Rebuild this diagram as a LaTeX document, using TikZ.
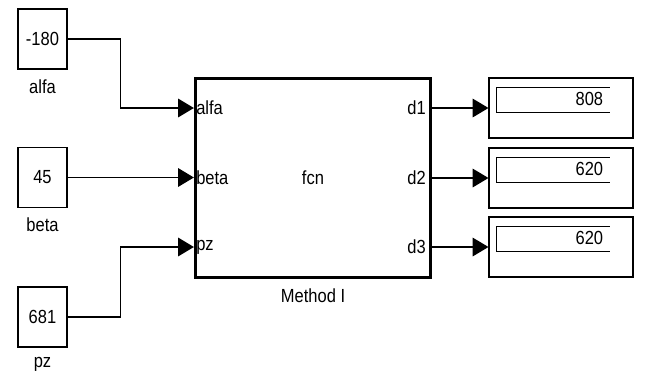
\documentclass[tikz,border=0pt]{standalone}
\usepackage{fontspec}
\setmainfont{Liberation Sans}[FakeStretch=0.87]
\usetikzlibrary{arrows.meta, positioning, calc}

\begin{document}
\begin{tikzpicture}[x=0.02cm, y=-0.02cm,
        every node/.style={font=\fontsize{10.8}{13}\selectfont},
        const/.style={draw, line width=0.6pt, minimum width=0.98cm, minimum height=1.2cm, inner sep=0pt},
        disp/.style={draw, line width=0.6pt, minimum width=2.88cm, minimum height=1.2cm, inner sep=0pt},
        wire/.style={line width=0.95pt, -{Triangle[length=9pt,width=10.5pt]}},
        port/.style={inner sep=0pt}]
        \useasboundingbox (0,0) rectangle (648,372);

        % Блок функции
        \node[draw, line width=1.8pt, minimum width=4.7cm, minimum height=3.98cm] (fcn) at (313,178) {fcn};
        \node[below=0.7mm of fcn] (fcnname) {Method I};

        % Константы
        \foreach \name/\val/\y in {alfa/-180/39, beta/45/177.5, pz/681/317} {
            \node[const] (\name) at (42.5,\y) {\val};
            \node[below=0.8mm of \name] (\name lbl) {\name};
        }

        % Дисплеи
        \foreach \i/\y/\val in {1/108/808, 2/178/620, 3/247/620} {
            \node[disp] (disp\i) at (561,\y) {};
            \draw[line width=1.1pt] ($(disp\i.north west)+(8,35)$) -- ++(0,-25) -- ++(114,0);
            \draw[line width=0.5pt] ($(disp\i.north west)+(8,35)$) -- ++(114,0);
            \node[anchor=east, inner sep=0pt] (val\i) at ($(disp\i.north west)+(115,21)$) {\val};
        }

        % Порты
        \coordinate (in1) at (fcn.west |- disp1.west);
        \coordinate (in2) at (fcn.west |- beta.east);
        \coordinate (in3) at (fcn.west |- disp3.west);
        \foreach \i in {1, 2, 3} {
            \coordinate (out\i) at (fcn.east |- disp\i.west);
            \node[port, anchor=east] (dlbl\i) at ($(out\i)+(-6,0)$) {d\i};
        }
        \node[port, anchor=west] (alfaport) at ($(in1)+(2,0)$) {alfa};
        \node[port, anchor=west] (betaport) at ($(in2)+(2,0)$) {beta};
        \node[port, anchor=west] (pzport) at ($(in3)+(2,0)$) {pz};

        % Соединения
        \draw[wire] (alfa.east) -- ++(53,0) |- (in1);
        \draw[wire] (beta.east) -- (in2);
        \draw[wire] (pz.east) -- ++(53,0) |- (in3);
        \foreach \i in {1, 2, 3} {
            \draw[wire] (out\i) -- (disp\i.west);
        }
    \end{tikzpicture}
\end{document}
